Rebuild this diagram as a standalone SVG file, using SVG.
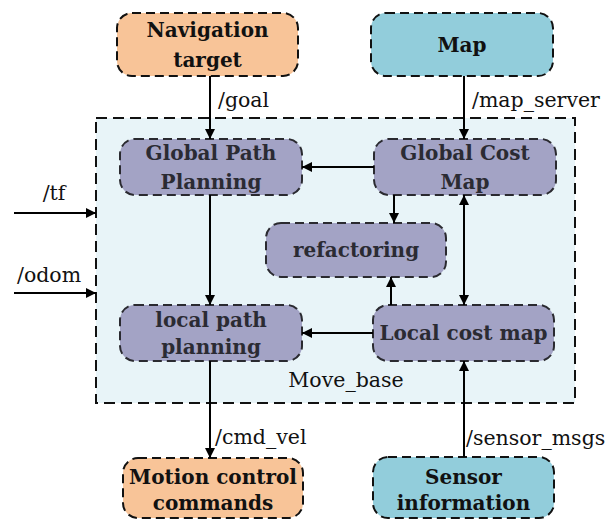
<svg xmlns="http://www.w3.org/2000/svg" width="609" height="521" viewBox="0 0 609 521">
<defs>
<marker id="ah" viewBox="0 0 10 10" refX="10" refY="5" markerWidth="10" markerHeight="10" markerUnits="userSpaceOnUse" orient="auto-start-reverse">
<path d="M0,0 L10,5 L0,10 Z" fill="#000"/>
</marker>
<style>
.ext{stroke:#111;stroke-width:2;stroke-dasharray:9 5}
.org{fill:#F8C498}
.teal{fill:#92CDDB}
.pur{fill:#A3A3C5;stroke:#2a2a30;stroke-width:2;stroke-dasharray:9 5}
.bt{font-family:"DejaVu Serif","Liberation Serif",serif;font-weight:bold;font-size:20px;text-anchor:middle;fill:#111}
.pt{fill:#2b2b33}
.lb{font-family:"DejaVu Serif","Liberation Serif",serif;font-size:20.5px;fill:#111}
.cn{stroke:#000;stroke-width:2;fill:none;marker-end:url(#ah)}
</style>
</defs>
<rect width="609" height="521" fill="#fff"/>
<g id="move_base">
<rect x="96" y="118" width="479" height="285" fill="#E8F4F8" stroke="#111" stroke-width="2" stroke-dasharray="11 6"/>
<text class="lb" x="346" y="387" text-anchor="middle">Move_base</text>
</g>
<g id="nav_target">
<rect class="ext org" x="117" y="13" width="181" height="63" rx="15"/>
<text class="bt" x="207.5" y="37">Navigation</text>
<text class="bt" x="207.5" y="67">target</text>
</g>
<g id="map">
<rect class="ext teal" x="371" y="13" width="182" height="63" rx="15"/>
<text class="bt" x="462" y="52">Map</text>
</g>
<g id="global_path">
<rect class="pur" x="120" y="139" width="182" height="56" rx="15"/>
<text class="bt pt" x="211" y="160">Global Path</text>
<text class="bt pt" x="211" y="189">Planning</text>
</g>
<g id="global_cost">
<rect class="pur" x="374" y="139" width="182" height="56" rx="15"/>
<text class="bt pt" x="465" y="160">Global Cost</text>
<text class="bt pt" x="465" y="189">Map</text>
</g>
<g id="refactoring">
<rect class="pur" x="266" y="223" width="180" height="54" rx="15"/>
<text class="bt pt" x="356" y="257">refactoring</text>
</g>
<g id="local_path">
<rect class="pur" x="120" y="305" width="182" height="56" rx="15"/>
<text class="bt pt" x="211" y="327">local path</text>
<text class="bt pt" x="211" y="354">planning</text>
</g>
<g id="local_cost">
<rect class="pur" x="373" y="305" width="181" height="56" rx="15"/>
<text class="bt pt" x="463.5" y="340">Local cost map</text>
</g>
<g id="motion">
<rect class="ext org" x="123" y="458" width="180" height="60" rx="15"/>
<text class="bt" x="213" y="484">Motion control</text>
<text class="bt" x="213" y="510">commands</text>
</g>
<g id="sensor">
<rect class="ext teal" x="373" y="457" width="181" height="61" rx="15"/>
<text class="bt" x="463.5" y="484">Sensor</text>
<text class="bt" x="463.5" y="510">information</text>
</g>
<g id="connectors">
<line class="cn" x1="210" y1="76" x2="210" y2="139"/>
<line class="cn" x1="464" y1="76" x2="464" y2="139"/>
<line class="cn" x1="14" y1="213" x2="96" y2="213"/>
<line class="cn" x1="14" y1="293" x2="96" y2="293"/>
<line class="cn" x1="374" y1="167" x2="302" y2="167"/>
<line class="cn" x1="210" y1="195" x2="210" y2="305"/>
<line class="cn" x1="394" y1="195" x2="394" y2="223"/>
<line class="cn" x1="391" y1="305" x2="391" y2="277"/>
<line class="cn" x1="464" y1="195" x2="464" y2="305" marker-start="url(#ah)"/>
<line class="cn" x1="373" y1="333" x2="302" y2="333"/>
<line class="cn" x1="210" y1="361" x2="210" y2="458"/>
<line class="cn" x1="464" y1="457" x2="464" y2="361"/>
<text class="lb" x="218" y="107">/goal</text>
<text class="lb" x="472" y="107">/map_server</text>
<text class="lb" x="54" y="200" text-anchor="middle">/tf</text>
<text class="lb" x="17" y="282">/odom</text>
<text class="lb" x="215" y="444">/cmd_vel</text>
<text class="lb" x="466" y="445">/sensor_msgs</text>
</g>
</svg>
